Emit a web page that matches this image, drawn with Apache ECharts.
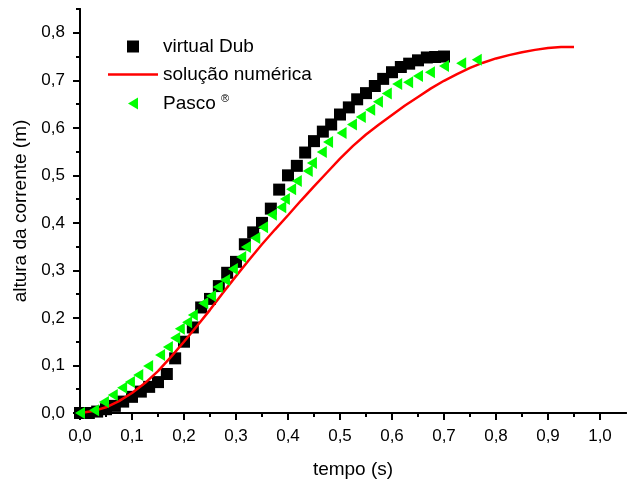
<!DOCTYPE html>
<html>
<head>
<meta charset="utf-8">
<script src="https://cdn.jsdelivr.net/npm/echarts@6/dist/echarts.min.js"></script>
<style>
html,body{margin:0;padding:0;background:#fff;}
#chart{width:639px;height:486px;}
</style>
</head>
<body>
<div id="chart"></div>
<script>
// ---- data ----
const xMajorTicks = [0,0.1,0.2,0.3,0.4,0.5,0.6,0.7,0.8,0.9,1.0];
const xMinorTicks = [0.05,0.15,0.25,0.35,0.45,0.55,0.65,0.75,0.85,0.95];
const yMajorTicks = [0,0.1,0.2,0.3,0.4,0.5,0.6,0.7,0.8];
const yMinorTicks = [0.05,0.15,0.25,0.35,0.45,0.55,0.65,0.75,0.85];

const dubT = [0.000,0.017,0.033,0.050,0.067,0.083,0.100,0.117,0.133,0.150,0.167,0.183,0.200,0.217,0.233,0.250,0.267,0.283,0.300,0.317,0.333,0.350,0.367,0.383,0.400,0.417,0.433,0.450,0.467,0.483,0.500,0.517,0.533,0.550,0.567,0.583,0.600,0.617,0.633,0.650,0.667,0.683,0.700];
const dubH = [0.000,0.000,0.003,0.008,0.015,0.024,0.034,0.045,0.055,0.065,0.082,0.115,0.150,0.180,0.222,0.240,0.267,0.295,0.318,0.355,0.380,0.400,0.430,0.470,0.500,0.520,0.548,0.572,0.592,0.607,0.628,0.643,0.660,0.673,0.688,0.703,0.717,0.728,0.735,0.742,0.748,0.749,0.750];

const numT = [0,0.025,0.05,0.075,0.1,0.125,0.15,0.175,0.2,0.225,0.25,0.275,0.3,0.325,0.35,0.375,0.4,0.425,0.45,0.475,0.5,0.525,0.55,0.575,0.6,0.625,0.65,0.675,0.7,0.725,0.75,0.775,0.8,0.825,0.85,0.875,0.9,0.925,0.95];
const numH = [0,0.004,0.012,0.025,0.042,0.063,0.088,0.118,0.150,0.183,0.217,0.253,0.288,0.322,0.355,0.386,0.416,0.447,0.477,0.506,0.535,0.562,0.586,0.607,0.627,0.647,0.665,0.683,0.699,0.713,0.726,0.737,0.746,0.753,0.759,0.764,0.768,0.770,0.770];

const pascoT = [0.000,0.027,0.046,0.063,0.081,0.096,0.112,0.131,0.154,0.169,0.183,0.192,0.206,0.217,0.237,0.252,0.265,0.279,0.294,0.310,0.319,0.337,0.352,0.369,0.387,0.394,0.406,0.417,0.438,0.446,0.465,0.477,0.503,0.523,0.540,0.558,0.573,0.590,0.610,0.631,0.650,0.673,0.700,0.733,0.763];
const pascoH = [0.000,0.006,0.023,0.038,0.053,0.065,0.080,0.099,0.122,0.139,0.158,0.177,0.191,0.206,0.231,0.246,0.265,0.280,0.303,0.328,0.349,0.368,0.391,0.417,0.433,0.450,0.471,0.488,0.509,0.526,0.549,0.570,0.589,0.607,0.623,0.638,0.655,0.672,0.692,0.696,0.709,0.717,0.730,0.736,0.743];

const seriesNames = ['virtual Dub','solução numérica','Pasco'];

const zip = (a,b)=>a.map((v,i)=>[v,b[i]]);
const fmt = v => v.toFixed(1).replace('.', ',');
const FONT = 'Liberation Sans, Arial, sans-serif';
const TRI = 'path://M0,6 L10,0 L10,12 Z';
const SQ = 'path://M0,0 L10,0 L10,10 L0,10 Z';
const LINEICON = 'path://M0,0 L50,0 L50,2.5 L0,2.5 Z';

function xAx(pos, vals, len, inside, main){
  return {
    type:'value', position:pos, min:0, max:1.05, interval:0.1,
    axisLine:{show:main, lineStyle:{color:'#000', width:2}},
    axisTick:{show:true, inside:inside, length:len, customValues:vals, lineStyle:{color:'#000', width:2}},
    axisLabel:{show:main && pos==='bottom', customValues:xMajorTicks, formatter:fmt, color:'#000', fontFamily:FONT, fontSize:17, margin:15},
    splitLine:{show:false},
    name: (main && pos==='bottom') ? 'tempo (s)' : '',
    nameLocation:'middle', nameGap:47,
    nameTextStyle:{color:'#000', fontFamily:FONT, fontSize:19}
  };
}
function yAx(pos, vals, len, inside, main){
  return {
    type:'value', position:pos, min:0, max:0.85, interval:0.1,
    axisLine:{show:main, lineStyle:{color:'#000', width:2}},
    axisTick:{show:true, inside:inside, length:len, customValues:vals, lineStyle:{color:'#000', width:2}},
    axisLabel:{show:main && pos==='left', customValues:yMajorTicks, formatter:fmt, color:'#000', fontFamily:FONT, fontSize:17, margin:15},
    splitLine:{show:false},
    name: (main && pos==='left') ? 'altura da corrente (m)' : '',
    nameLocation:'middle', nameGap:47,
    nameTextStyle:{color:'#000', fontFamily:FONT, fontSize:19}
  };
}

const chart = echarts.init(document.getElementById('chart'), null, {renderer:'canvas'});
chart.setOption({
  backgroundColor:'#fff',
  animation:false,
  grid:{left:80, right:13, top:9, bottom:73, containLabel:false},
  xAxis:[
    xAx('bottom', xMajorTicks, 7, false, true),
    xAx('bottom', xMinorTicks, 4, false, false),
    xAx('top', xMajorTicks, 7, true, true),
    xAx('top', xMinorTicks, 4, true, false)
  ],
  yAxis:[
    yAx('left', yMajorTicks, 7, false, true),
    yAx('left', yMinorTicks, 4, false, false),
    yAx('right', yMajorTicks, 7, true, true),
    yAx('right', yMinorTicks, 4, true, false)
  ],
  legend:{
    orient:'vertical', left:108, top:37, padding:0, itemWidth:50, itemHeight:12, itemGap:9,
    textStyle:{color:'#000', fontFamily:FONT, fontSize:19, rich:{
      sup:{fontSize:11, verticalAlign:'top', padding:[0,0,10,0], color:'#000', fontFamily:FONT},
      n:{fontSize:19, color:'#000', fontFamily:FONT}
    }},
    formatter: name => name==='Pasco' ? '{n|Pasco} {sup|®}' : name,
    data:[
      {name:seriesNames[0], icon:SQ},
      {name:seriesNames[1], icon:LINEICON},
      {name:seriesNames[2], icon:TRI}
    ]
  },
  series:[
    {name:seriesNames[0], type:'scatter', data:zip(dubT,dubH), symbol:'rect', symbolSize:12,
     itemStyle:{color:'#000', opacity:1}, z:2},
    {name:seriesNames[1], type:'line', data:zip(numT,numH), showSymbol:false, symbol:'none',
     lineStyle:{color:'#ff0000', width:2.5}, itemStyle:{color:'#ff0000'}, z:3},
    {name:seriesNames[2], type:'scatter', data:zip(pascoT,pascoH), symbol:TRI, symbolSize:[10,12],
     symbolKeepAspect:false, itemStyle:{color:'#00ff00', opacity:1}, z:4}
  ]
});
</script>
</body>
</html>
